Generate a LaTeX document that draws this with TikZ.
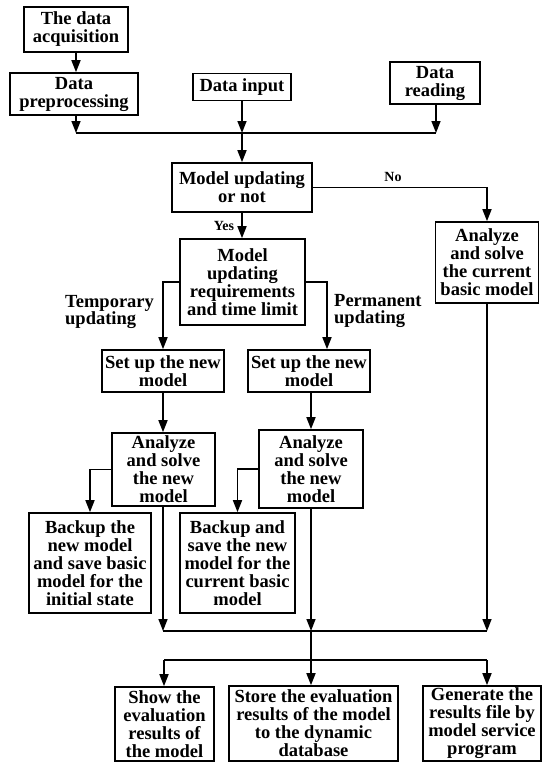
\documentclass[tikz,border=0pt]{standalone}
\usepackage{fontspec}
\setmainfont{Liberation Serif}
\usetikzlibrary{arrows.meta}
\begin{document}
\begin{tikzpicture}[x=1pt,y=-1pt,
  box/.style={draw, line width=1.6pt, align=center, inner sep=0pt, font=\bfseries\fontsize{18.5}{18}\selectfont},
  conn/.style={line width=1.6pt},
  arr/.style={conn, -{Triangle[length=12pt,width=9pt]}},
  lbl/.style={font=\bfseries\fontsize{18.5}{17.5}\selectfont, align=left, inner sep=0pt},
  small/.style={font=\bfseries\fontsize{14}{14}\selectfont, inner sep=0pt}]
\useasboundingbox (0,0) rectangle (542,763);
% nodes
\node[box, minimum width=104pt, minimum height=45pt] (acq) at (76,29.5) {The data\\acquisition};
\node[box, minimum width=128pt, minimum height=42pt] (pre) at (74,94) {Data\\preprocessing};
\node[box, minimum width=98pt, minimum height=27pt] (input) at (242,87) {Data input};
\node[box, minimum width=90pt, minimum height=42pt] (reading) at (435,83) {Data\\reading};
\node[box, minimum width=140pt, minimum height=49pt] (upd) at (242,187.5) {Model updating\\or not};
\node[box, minimum width=103pt, minimum height=81pt] (cur) at (487,262.5) {Analyze\\and solve\\the current\\basic model};
\node[box, minimum width=125pt, minimum height=86pt] (req) at (242.5,282) {Model\\updating\\requirements\\and time limit};
\node[box, minimum width=122pt, minimum height=42pt] (set1) at (163,371) {Set up the new\\model};
\node[box, minimum width=122pt, minimum height=42pt] (set2) at (309,371) {Set up the new\\model};
\node[box, minimum width=103pt, minimum height=73pt] (an1) at (163.5,469.5) {Analyze\\and solve\\the new\\model};
\node[box, minimum width=104pt, minimum height=78pt] (an2) at (311,469) {Analyze\\and solve\\the new\\model};
\node[box, minimum width=122pt, minimum height=100pt] (bk1) at (90,563) {Backup the\\new model\\and save basic\\model for the\\initial state};
\node[box, minimum width=115pt, minimum height=100pt] (bk2) at (237.5,563) {Backup and\\save the new\\model for the\\current basic\\model};
\node[box, minimum width=99pt, minimum height=74pt] (out1) at (164.5,724) {Show the\\evaluation\\results of\\the model};
\node[box, minimum width=169pt, minimum height=75pt] (out2) at (313.5,723.5) {Store the evaluation\\results of the model\\to the dynamic\\database};
\node[box, minimum width=118pt, minimum height=75pt] (out3) at (482,723.5) {Generate the\\results file by\\model service\\program};
% labels
\node[small] (no) at (393,177) {No};
\node[small] (yes) at (224,226) {Yes};
\node[lbl, anchor=west] (temp) at (65,312) {Temporary\\updating};
\node[lbl, anchor=west] (perm) at (334,311) {Permanent\\updating};
% coordinates
\coordinate (jl) at (76,133);
\coordinate (jm) at (242,133);
\coordinate (jr) at (436,133);
\coordinate (pc) at (327,0);
\coordinate (b1) at (163,631);
\coordinate (b2) at (311,631);
\coordinate (b3) at (487,631);
\coordinate (c1) at (164,660);
\coordinate (c2) at (311,660);
\coordinate (c3) at (487,660);
% connectors
\draw[arr] (acq.south) -- (acq.south |- pre.north);
\draw[arr] (pre.south -| jl) -- (jl);
\draw[arr] (input.south) -- (jm);
\draw[arr] (reading.south -| jr) -- (jr);
\draw[conn] (jl) -- (jr);
\draw[arr] (jm) -- (upd.north);
\draw[arr] (upd.east) -| (cur.north);
\draw[arr] (upd.south) -- (upd.south |- req.north);
\draw[arr] (req.west) -| (set1.north);
\draw[arr] (req.east) -| (set2.north -| pc);
\draw[arr] (set1.south) -- (set1.south |- an1.north);
\draw[arr] (set2.south -| an2.north) -- (an2.north);
\draw[arr] (an1.west) -| (bk1.north);
\draw[arr] (an2.west) -| (bk2.north);
\draw[arr] (an1.south -| b1) -- (b1);
\draw[arr] (an2.south) -- (b2);
\draw[arr] (cur.south) -- (b3);
\draw[conn] (b1) -- (b3);
\draw[conn] (b2) -- (c2);
\draw[conn] (c1) -- (c3);
\draw[arr] (c1) -- (c1 |- out1.north);
\draw[arr] (c2) -- (c2 |- out2.north);
\draw[arr] (c3) -- (c3 |- out3.north);
\end{tikzpicture}
\end{document}
